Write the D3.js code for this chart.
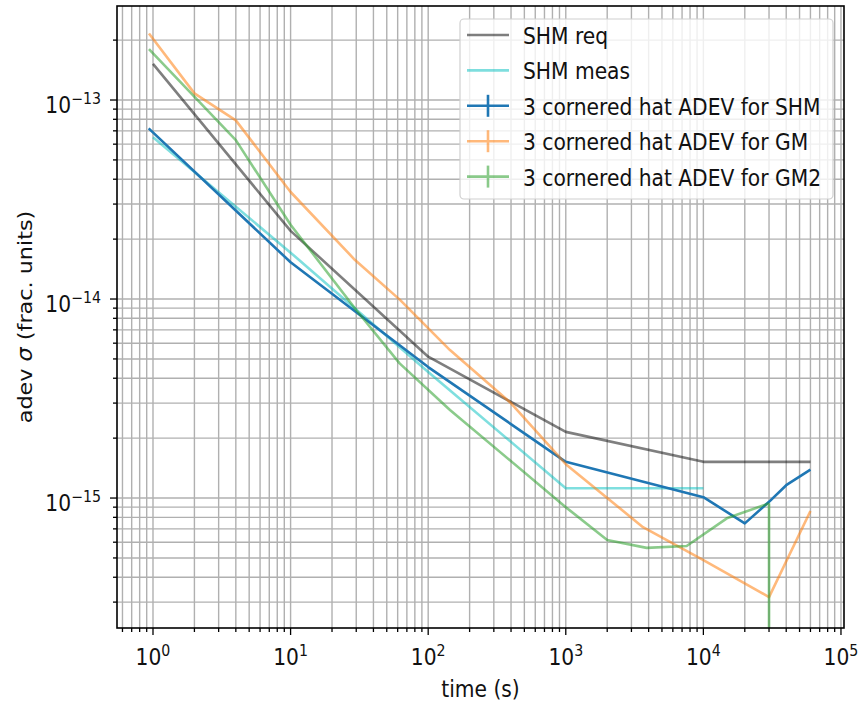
<!DOCTYPE html>
<html><head><meta charset="utf-8">
<script src="https://cdn.jsdelivr.net/npm/d3@7"></script>
<style>
body{margin:0;background:#fff}
svg{display:block}
text{font-family:"DejaVu Sans",sans-serif;fill:#111}
</style>
</head><body>
<svg id="chart" width="861" height="711"></svg>
<script>
// ---------------- data ----------------
const reqTau  = [1, 10, 100, 1000, 10000, 60000];
const reqAdev = [1.52e-13, 2.20e-14, 5.13e-15, 2.15e-15, 1.52e-15, 1.52e-15];

const measTau  = [1, 10, 100, 1000, 10000];
const measAdev = [6.5e-14, 1.71e-14, 4.3e-15, 1.12e-15, 1.12e-15];

const hatShmTau  = [0.93, 10, 100, 1000, 10000, 20000, 30000, 40000, 60000];
const hatShmAdev = [7.2e-14, 1.53e-14, 4.55e-15, 1.52e-15, 1.01e-15, 7.46e-16, 9.57e-16, 1.16e-15, 1.39e-15];

const hatGmTau  = [0.935, 2, 4, 10, 29.4, 62.4, 144, 393, 1000, 3640, 10000, 30000, 60000];
const hatGmAdev = [2.16e-13, 1.08e-13, 7.9e-14, 3.45e-14, 1.57e-14, 9.9e-15, 5.54e-15, 3.03e-15, 1.48e-15, 7.14e-16, 4.88e-16, 3.18e-16, 8.61e-16];

const hatGm2Tau  = [0.935, 4, 10, 30, 62, 144, 1000, 2000, 3870, 7560, 14800, 30000];
const hatGm2Adev = [1.80e-13, 6.29e-14, 2.36e-14, 8.81e-15, 4.75e-15, 2.77e-15, 9.0e-16, 6.15e-16, 5.62e-16, 5.74e-16, 7.91e-16, 9.40e-16];
// lower error of the last GM2 point reaches zero (runs off the log axis)
const hatGm2ErrLow = [0,0,0,0,0,0,0,0,0,0,0,9.40e-16];

const seriesNames = ["SHM req", "SHM meas", "3 cornered hat ADEV for SHM", "3 cornered hat ADEV for GM", "3 cornered hat ADEV for GM2"];
const xTickExps = [0, 1, 2, 3, 4, 5];
const yTickExps = [-15, -14, -13];
const xLabel = "time (s)";

// ---------------- layout ----------------
const L = 117, R = 844, T = 6, B = 628;
const FS = 22.5, SX = 0.9;
const svg = d3.select("#chart");

const x = d3.scaleLog().domain([Math.pow(10, -0.2616), Math.pow(10, 5.022)]).range([L, R]);
const y = d3.scaleLog().domain([Math.pow(10, -15.653), Math.pow(10, -12.5276)]).range([B, T]);

svg.append("defs").append("clipPath").attr("id", "clip")
  .append("rect").attr("x", L).attr("y", T).attr("width", R - L).attr("height", B - T);

// grid (major + minor)
const xd = x.domain(), yd = y.domain();
const xAll = [], yAll = [];
for (let e = -1; e <= 5; e++) for (let m = 1; m <= 9; m++) {
  const v = m * Math.pow(10, e);
  if (v >= xd[0] && v <= xd[1]) xAll.push({v, major: m === 1});
}
for (let e = -16; e <= -12; e++) for (let m = 1; m <= 9; m++) {
  const v = m * Math.pow(10, e);
  if (v >= yd[0] && v <= yd[1]) yAll.push({v, major: m === 1});
}
const grid = svg.append("g");
grid.selectAll("line.gx").data(xAll).join("line")
  .attr("x1", d => x(d.v)).attr("x2", d => x(d.v)).attr("y1", T).attr("y2", B)
  .attr("stroke", "#b0b0b0").attr("stroke-width", 1.4);
grid.selectAll("line.gy").data(yAll).join("line")
  .attr("y1", d => y(d.v)).attr("y2", d => y(d.v)).attr("x1", L).attr("x2", R)
  .attr("stroke", "#b0b0b0").attr("stroke-width", 1.4);

// series
const series = [
  {tau: reqTau, v: reqAdev, color: "#000000", op: 0.5, eb: false},
  {tau: measTau, v: measAdev, color: "#00bfbf", op: 0.5, eb: false},
  {tau: hatShmTau, v: hatShmAdev, color: "#1f77b4", op: 1, eb: true},
  {tau: hatGmTau, v: hatGmAdev, color: "#ff7f0e", op: 0.55, eb: true},
  {tau: hatGm2Tau, v: hatGm2Adev, color: "#2ca02c", op: 0.55, eb: true, errLow: hatGm2ErrLow}
];
const line = d3.line().x(d => x(d[0])).y(d => y(d[1]));
const plot = svg.append("g").attr("clip-path", "url(#clip)");
series.forEach(s => {
  const g = plot.append("g").attr("opacity", s.op);
  const pts = s.tau.map((t, i) => [t, s.v[i]]);
  g.append("path").attr("d", line(pts)).attr("fill", "none")
    .attr("stroke", s.color).attr("stroke-width", 2.6).attr("stroke-linejoin", "round");
  if (s.errLow) {
    pts.forEach((p, i) => {
      const lo = s.errLow[i];
      if (lo <= 0) return;
      const low = p[1] - lo;
      const yLow = low > 0 ? y(low) : B + 50;
      g.append("line").attr("x1", x(p[0])).attr("x2", x(p[0]))
        .attr("y1", y(p[1])).attr("y2", yLow)
        .attr("stroke", s.color).attr("stroke-width", 2.6);
    });
  }
});

// spines
svg.append("rect").attr("x", L).attr("y", T).attr("width", R - L).attr("height", B - T)
  .attr("fill", "none").attr("stroke", "#000").attr("stroke-width", 1.6);

// ticks
const ticks = svg.append("g").attr("stroke", "#000").attr("stroke-width", 1.3);
xAll.forEach(d => ticks.append("line").attr("x1", x(d.v)).attr("x2", x(d.v))
  .attr("y1", B).attr("y2", B + (d.major ? 7 : 4)));
yAll.forEach(d => ticks.append("line").attr("y1", y(d.v)).attr("y2", y(d.v))
  .attr("x1", L).attr("x2", L - (d.major ? 7 : 4)));

function powText(g, exp, anchor) {
  const t = g.append("text").attr("font-size", FS).attr("text-anchor", anchor);
  t.append("tspan").text("10");
  t.append("tspan").attr("dy", -9).attr("font-size", FS * 0.7)
    .text(exp < 0 ? "\u2212" + (-exp) : String(exp));
}
xTickExps.forEach(e => {
  const g = svg.append("g").attr("transform", `translate(${x(Math.pow(10, e))},${665}) scale(${SX},1)`);
  powText(g, e, "middle");
});
yTickExps.forEach(e => {
  const g = svg.append("g").attr("transform", `translate(${101},${y(Math.pow(10, e)) + 12.7}) scale(${SX},1)`);
  powText(g, e, "end");
});

// axis labels
svg.append("text").attr("font-size", FS).attr("text-anchor", "middle")
  .attr("transform", `translate(${(L + R) / 2},697) scale(${SX},1)`).text(xLabel);
const yl = svg.append("text").attr("font-size", 20.3).attr("text-anchor", "middle")
  .attr("transform", `translate(32,${(T + B) / 2}) rotate(-90) scale(1.1,1)`);
yl.append("tspan").text("adev ");
yl.append("tspan").attr("font-style", "italic").text("\u03c3");
yl.append("tspan").text(" (frac. units)");

// legend
const lg = svg.append("g");
lg.append("rect").attr("x", 460).attr("y", 19).attr("width", 373).attr("height", 180)
  .attr("rx", 4).attr("fill", "#fff").attr("fill-opacity", 0.8)
  .attr("stroke", "#d0d0d0").attr("stroke-width", 1.2);
seriesNames.forEach((name, i) => {
  const s = series[i];
  const cy = 35 + i * 35.4;
  const hg = lg.append("g").attr("opacity", s.op);
  hg.append("line").attr("x1", 467).attr("x2", 509).attr("y1", cy).attr("y2", cy)
    .attr("stroke", s.color).attr("stroke-width", 2.6);
  if (s.eb) hg.append("line").attr("x1", 488).attr("x2", 488).attr("y1", cy - 11).attr("y2", cy + 11)
    .attr("stroke", s.color).attr("stroke-width", 2.6);
  lg.append("text").attr("font-size", FS)
    .attr("transform", `translate(523,${cy + 9}) scale(${SX},1)`).text(name);
});
</script>
</body></html>
